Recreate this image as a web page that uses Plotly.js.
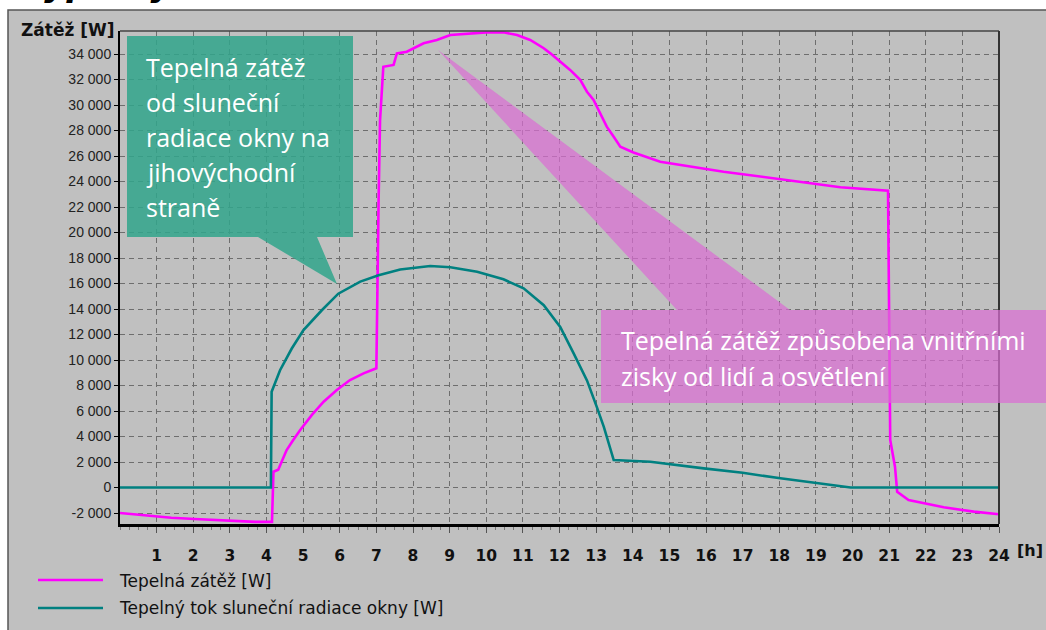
<!DOCTYPE html>
<html>
<head>
<meta charset="utf-8">
<script src="https://cdn.plot.ly/plotly-3.0.1.min.js"></script>
<style>
html,body{margin:0;padding:0;background:#ffffff;}
#chart{width:1046px;height:630px;}
</style>
</head>
<body>
<div id="chart"></div>
<script>
// ---- data ----
const hoursLoad = [0, 1.4, 2.04, 2.67, 3.69, 4.15, 4.19, 4.32, 4.41, 4.55, 4.73, 4.92, 5.24, 5.56, 5.92, 6.28, 6.65, 7.0,
  7.06, 7.10, 7.19, 7.47, 7.56, 7.83, 8.29, 8.65, 9.02, 9.65, 10.0, 10.47, 10.84, 11.2, 11.57, 11.75, 12.02, 12.29,
  12.57, 12.75, 12.93, 13.11, 13.29, 13.48, 13.66, 14.02, 14.48, 14.75, 16.48, 18.03, 19.67, 20.97,
  20.99, 21.03, 21.16, 21.22, 21.53, 21.94, 22.49, 23.31, 23.95, 24];
const loadW = [-2000, -2370, -2470, -2575, -2700, -2700, 1240, 1400, 2020, 2940, 3730, 4510, 5690, 6730, 7650, 8430, 8950, 9350,
  22400, 28800, 33000, 33140, 34050, 34180, 34840, 35100, 35490, 35620, 35700, 35700, 35490, 35100, 34450, 34050, 33400, 32750,
  31960, 31040, 30390, 29350, 28300, 27510, 26730, 26280, 25850, 25550, 24770, 24170, 23550, 23280,
  16800, 3730, 1630, -330, -980, -1240, -1555, -1895, -2100, -2100];

const hoursSolar = [0, 4.12, 4.14, 4.37, 4.69, 5.01, 5.51, 5.96, 6.56, 7.06, 7.65, 8.47, 9.02, 9.75, 10.47, 11.02, 11.57,
  12.02, 12.39, 12.75, 13.02, 13.21, 13.48, 14.48, 15.94, 17.0, 18.03, 19.0, 19.95, 24];
const solarW = [0, 0, 7500, 9200, 10900, 12350, 13900, 15200, 16150, 16650, 17100, 17370, 17270, 16920, 16330, 15620, 14300,
  12600, 10500, 8400, 6300, 4750, 2150, 2020, 1500, 1150, 720, 380, 0, 0];

const seriesNames = ['Tepelná zátěž [W]', 'Tepelný tok sluneční radiace okny [W]'];
const seriesColors = ['#ff00ff', '#008080'];

const xTickVals = [1,2,3,4,5,6,7,8,9,10,11,12,13,14,15,16,17,18,19,20,21,22,23,24];
const yTickVals = [-2000,0,2000,4000,6000,8000,10000,12000,14000,16000,18000,20000,22000,24000,26000,28000,30000,32000,34000];

const calloutSolarLines = ['Tepelná zátěž', 'od sluneční', 'radiace okny na', 'jihovýchodní', 'straně'];
const calloutInternalLines = ['Tepelná zátěž způsobena vnitřními', 'zisky od lidí a osvětlení'];

const yAxisTitle = 'Zátěž [W]';
const xUnitLabel = '[h]';
const clippedTitle = 'Výpočty';

// ---- layout helpers ----
const W = 1046, H = 630, ML = 120, MR = 47, MT = 31, MB = 106;
const PW = W - ML - MR, PH = H - MT - MB;
const px = x => (x - ML) / PW;
const py = y => (H - MB - y) / PH;
const fmt = n => (n < 0 ? '-' : '') + String(Math.abs(n)).replace(/\B(?=(\d{3})+(?!\d))/g, ' ');
const yTickText = yTickVals.map(fmt);

function pathFrom(points) {
  return 'M' + points.map(p => px(p[0]).toFixed(5) + ',' + py(p[1]).toFixed(5)).join(' L') + ' Z';
}

const traces = [
  {x: hoursLoad, y: loadW, type: 'scatter', mode: 'lines', name: seriesNames[0],
   line: {color: seriesColors[0], width: 2.6}, showlegend: false},
  {x: hoursSolar, y: solarW, type: 'scatter', mode: 'lines', name: seriesNames[1],
   line: {color: seriesColors[1], width: 2.6}, showlegend: false}
];

const shapes = [
  // outer gray panel
  {type: 'rect', xref: 'paper', yref: 'paper', layer: 'below',
   x0: px(8), x1: px(1060), y0: py(640), y1: py(10),
   fillcolor: '#c0c0c0', line: {color: '#555555', width: 1.5}},
  // top and right plot borders
  {type: 'line', xref: 'paper', yref: 'paper', x0: 0, x1: 1, y0: 1, y1: 1, line: {color: '#444444', width: 1.5}},
  {type: 'line', xref: 'paper', yref: 'paper', x0: 1, x1: 1, y0: 0, y1: 1, line: {color: '#333333', width: 2}},
  // teal callout
  {type: 'path', xref: 'paper', yref: 'paper', layer: 'above',
   path: pathFrom([[127,36],[353,36],[353,237],[317,237],[337,284],[258,237],[127,237]]),
   fillcolor: 'rgba(50,165,140,0.86)', line: {width: 0}},
  // magenta callout with wedge
  {type: 'path', xref: 'paper', yref: 'paper', layer: 'above',
   path: pathFrom([[601,310],[677,310],[438,50],[790,310],[1060,310],[1060,403],[601,403]]),
   fillcolor: 'rgba(218,110,210,0.72)', line: {width: 0}},
  // legend lines
  {type: 'line', xref: 'paper', yref: 'paper', x0: px(38), x1: px(103), y0: py(580), y1: py(580),
   line: {color: seriesColors[0], width: 2.6}},
  {type: 'line', xref: 'paper', yref: 'paper', x0: px(38), x1: px(103), y0: py(608), y1: py(608),
   line: {color: seriesColors[1], width: 2.6}}
];

const annotations = [];
const calloutFont = {family: 'Open Sans, Noto Sans, sans-serif', size: 25, color: '#ffffff'};
calloutSolarLines.forEach((t, i) => annotations.push({
  xref: 'paper', yref: 'paper', x: px(144), y: py(67 + 35 * i), xanchor: 'left', yanchor: 'middle',
  text: t, showarrow: false, font: calloutFont}));
calloutInternalLines.forEach((t, i) => annotations.push({
  xref: 'paper', yref: 'paper', x: px(619), y: py(340 + 36 * i), xanchor: 'left', yanchor: 'middle',
  text: t, showarrow: false, font: calloutFont}));
// legend texts
seriesNames.forEach((t, i) => annotations.push({
  xref: 'paper', yref: 'paper', x: px(117), y: py(581 + 27 * i), xanchor: 'left', yanchor: 'middle',
  text: t, showarrow: false, font: {family: 'DejaVu Sans, sans-serif', size: 17, color: '#111111'}}));
// y axis title
annotations.push({xref: 'paper', yref: 'paper', x: px(19), y: py(30), xanchor: 'left', yanchor: 'middle',
  text: yAxisTitle, showarrow: false, font: {family: 'DejaVu Sans, sans-serif', size: 17, color: '#111111', weight: 'bold'}});
// x unit
annotations.push({xref: 'paper', yref: 'paper', x: px(1015), y: py(550), xanchor: 'left', yanchor: 'middle',
  text: xUnitLabel, showarrow: false, font: {family: 'DejaVu Sans, sans-serif', size: 16, color: '#111111', weight: 'bold'}});
// clipped title at the very top (only its lower edge is visible, as in the reference)
annotations.push({xref: 'paper', yref: 'paper', x: px(16), y: py(6), xanchor: 'left', yanchor: 'bottom',
  text: clippedTitle, showarrow: false, font: {family: 'DejaVu Sans, sans-serif', size: 34, color: '#000000', weight: 'bold', style: 'italic'}});

const layout = {
  width: W, height: H,
  margin: {l: ML, r: MR, t: MT, b: MB, pad: 0},
  paper_bgcolor: '#ffffff',
  plot_bgcolor: 'rgba(0,0,0,0)',
  showlegend: false,
  xaxis: {
    range: [0, 24], tickmode: 'array', tickvals: xTickVals, ticktext: xTickVals.map(String),
    showgrid: true, gridcolor: '#6e6e6e', gridwidth: 1, griddash: '5px,4px',
    zeroline: false, showline: true, linecolor: '#000000', linewidth: 3,
    ticks: 'outside', ticklen: 6, tickcolor: '#555555', tickwidth: 1,
    ticklabelstandoff: 9,
    minor: {tickmode: 'linear', tick0: 0, dtick: 0.25, ticks: 'outside', ticklen: 3, tickcolor: '#777777', showgrid: false},
    tickfont: {family: 'DejaVu Sans, sans-serif', size: 15.5, color: '#111111', weight: 'bold'},
    fixedrange: true
  },
  yaxis: {
    range: [-2863, 35804], tickmode: 'array', tickvals: yTickVals, ticktext: yTickText,
    showgrid: true, gridcolor: '#6e6e6e', gridwidth: 1, griddash: '5px,4px',
    zeroline: false, showline: true, linecolor: '#000000', linewidth: 2,
    ticks: 'outside', ticklen: 4, tickcolor: '#000000', tickwidth: 1,
    tickfont: {family: 'Liberation Sans, Arial, sans-serif', size: 14, color: '#222222'},
    fixedrange: true
  },
  shapes: shapes,
  annotations: annotations
};

Plotly.newPlot('chart', traces, layout, {displayModeBar: false, staticPlot: true});
</script>
</body>
</html>
